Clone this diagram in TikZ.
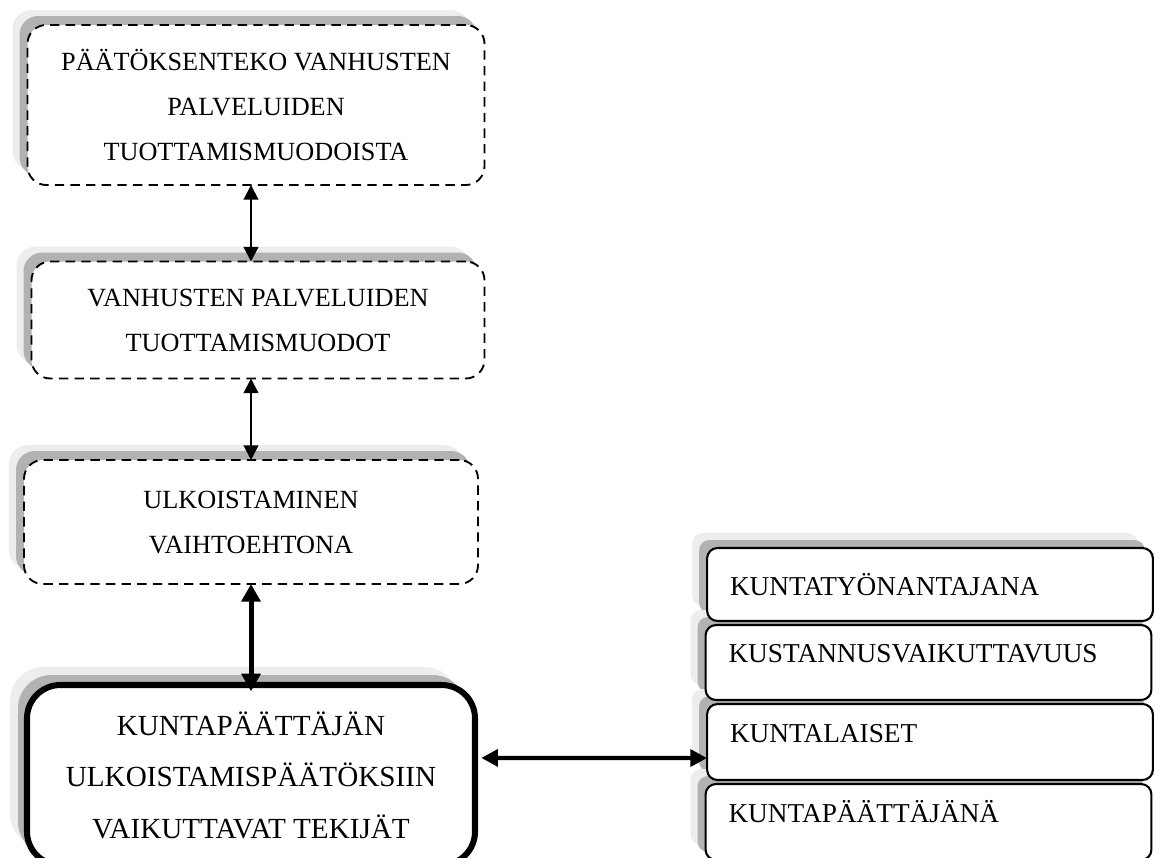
\documentclass[tikz,border=0pt]{standalone}
\usepackage{fontspec}
\setmainfont{Liberation Serif}
\usetikzlibrary{arrows.meta, positioning, backgrounds}

\begin{document}
\begin{tikzpicture}[
    x=0.48pt, y=-0.48pt,
    every node/.style={inner sep=0pt, outer sep=0pt},
    stage/.style ={draw=black, line width=0.9pt, dash pattern=on 4.5pt off 3pt,
                   rounded corners=9pt, fill=white, align=center,
                   font=\fontsize{12.6}{21.6}\selectfont},
    factor/.style={draw=black, line width=2.9pt, rounded corners=16pt,
                   fill=white, align=center,
                   font=\fontsize{14}{24.7}\selectfont},
    role/.style  ={draw=black, line width=1pt, rounded corners=5pt,
                   fill=white, align=left, inner xsep=11pt,
                   text width=192pt, font=\fontsize{13.1}{15}\selectfont},
    lifted/.style={text height=9pt, text depth=9pt},
    shlight/.style={fill=black!7, draw=none},
    shdark/.style ={fill=black!30, draw=none},
    thin/.style  ={{Triangle[length=7pt,width=7pt]}-{Triangle[length=7pt,width=7pt]},
                   line width=1pt},
    thick/.style ={{Triangle[length=8.5pt,width=9pt]}-{Triangle[length=8.5pt,width=9pt]},
                   line width=2.4pt},
    link/.style  ={{Triangle[length=8pt,width=8pt]}-{Triangle[length=8pt,width=8pt]},
                   line width=2pt},
  ]

  \useasboundingbox (0,0) rectangle (1155,857);
  \clip (0,0) rectangle (1155,857);

  %% --- left column ------------------------------------------------------
  \node[stage, minimum width=457*0.48pt, minimum height=160*0.48pt]
        (dec) at (256,105)
        {PÄÄTÖKSENTEKO VANHUSTEN\\ PALVELUIDEN\\ TUOTTAMISMUODOISTA};
  \node[stage, minimum width=453*0.48pt, minimum height=117*0.48pt]
        (form) at (258,320)
        {VANHUSTEN PALVELUIDEN\\ TUOTTAMISMUODOT};
  \node[stage, minimum width=454*0.48pt, minimum height=124*0.48pt]
        (outs) at (251,522)
        {ULKOISTAMINEN\\ VAIHTOEHTONA};
  \node[factor, minimum width=448*0.48pt, minimum height=180*0.48pt]
        (fact) at (251,775)
        {KUNTAPÄÄTTÄJÄN\\ ULKOISTAMISPÄÄTÖKSIIN\\ VAIKUTTAVAT TEKIJÄT};

  %% --- right column -----------------------------------------------------
  \node[role, minimum height=73*0.48pt] (emp)  at (930,584.5) {KUNTATYÖNANTAJANA};
  \node[role, lifted, minimum height=75*0.48pt] (cost) at (928.5,662.5) {KUSTANNUSVAIKUTTAVUUS};
  \node[role, lifted, minimum height=76*0.48pt] (res)  at (930,742) {KUNTALAISET};
  \node[role, lifted, minimum height=76*0.48pt] (dm)   at (928.5,822) {KUNTAPÄÄTTÄJÄNÄ};

  %% --- shadows (behind the boxes) ---------------------------------------
  \begin{scope}[on background layer]
    \fill[shlight, rounded corners=9pt]
          ([shift={(-15,-15)}]dec.north west) rectangle ([shift={(-15,-15)}]dec.south east);
    \fill[shdark, rounded corners=9pt]
          ([shift={(-8,-9)}]dec.north west) rectangle ([shift={(-8,-9)}]dec.south east);
    \fill[shlight, rounded corners=9pt]
          ([shift={(-15,-15)}]form.north west) rectangle ([shift={(-15,-15)}]form.south east);
    \fill[shdark, rounded corners=9pt]
          ([shift={(-8,-9)}]form.north west) rectangle ([shift={(-8,-9)}]form.south east);
    \fill[shlight, rounded corners=9pt]
          ([shift={(-15,-15)}]outs.north west) rectangle ([shift={(-15,-15)}]outs.south east);
    \fill[shdark, rounded corners=9pt]
          ([shift={(-8,-9)}]outs.north west) rectangle ([shift={(-8,-9)}]outs.south east);
    \fill[shlight, rounded corners=16pt]
          ([shift={(-17,-18)}]fact.north west) rectangle ([shift={(-17,-18)}]fact.south east);
    \fill[shdark, rounded corners=16pt]
          ([shift={(-9,-10)}]fact.north west) rectangle ([shift={(-9,-10)}]fact.south east);
    \fill[shlight, rounded corners=5pt]
          ([shift={(-15,-15)}]emp.north west) rectangle ([shift={(-15,-15)}]emp.south east);
    \fill[shdark, rounded corners=5pt]
          ([shift={(-8,-8)}]emp.north west) rectangle ([shift={(-8,-8)}]emp.south east);
    \fill[shlight, rounded corners=5pt]
          ([shift={(-15,-15)}]cost.north west) rectangle ([shift={(-15,-15)}]cost.south east);
    \fill[shdark, rounded corners=5pt]
          ([shift={(-8,-8)}]cost.north west) rectangle ([shift={(-8,-8)}]cost.south east);
    \fill[shlight, rounded corners=5pt]
          ([shift={(-15,-15)}]res.north west) rectangle ([shift={(-15,-15)}]res.south east);
    \fill[shdark, rounded corners=5pt]
          ([shift={(-8,-8)}]res.north west) rectangle ([shift={(-8,-8)}]res.south east);
    \fill[shlight, rounded corners=5pt]
          ([shift={(-15,-15)}]dm.north west) rectangle ([shift={(-15,-15)}]dm.south east);
    \fill[shdark, rounded corners=5pt]
          ([shift={(-8,-8)}]dm.north west) rectangle ([shift={(-8,-8)}]dm.south east);
  \end{scope}

  %% --- connectors -------------------------------------------------------
  \draw[thin]  (dec.south -| fact.north)  -- (form.north -| fact.north);
  \draw[thin]  (form.south -| fact.north) -- (outs.north -| fact.north);
  \draw[thick] (outs.south -| fact.north) -- ([yshift=-3pt]fact.north);
  \draw[link]  ([xshift=3pt, yshift=8.2pt]fact.east) -- ([yshift=-7.7pt]res.west);

\end{tikzpicture}
\end{document}
